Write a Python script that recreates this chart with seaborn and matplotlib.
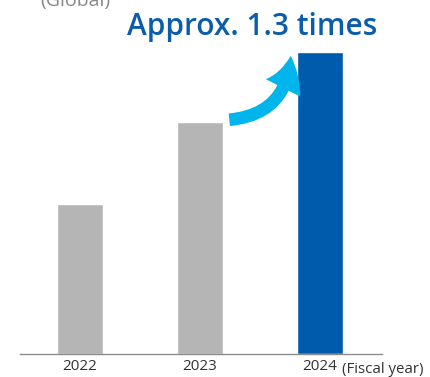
import matplotlib
matplotlib.use("Agg")
import matplotlib.pyplot as plt
import seaborn as sns
import pandas as pd
from matplotlib.patches import FancyArrowPatch

# -----------------------------
# DATA (relative sales)
# -----------------------------
years = ["2022", "2023", "2024"]
values = [150, 232, 302]
bar_colors = ["#b5b5b5", "#b5b5b5", "#005bac"]

df = pd.DataFrame({"Year": years, "Value": values})

sns.set_theme(style="white")
plt.rcParams["font.family"] = ["Open Sans", "DejaVu Sans"]

fig = plt.figure(figsize=(4.3, 3.77), dpi=100)
ax = fig.add_axes([20 / 430, 23 / 377, 362 / 430, 354 / 377])

sns.barplot(data=df, x="Year", y="Value", hue="Year", palette=bar_colors,
            legend=False, width=0.383, saturation=1, ax=ax)

ax.set_xlim(-0.5, 2.517)
ax.set_ylim(0, 354)
ax.set_xlabel("")
ax.set_ylabel("")
ax.set_yticks([])
ax.tick_params(axis="x", length=0, pad=3.5, labelsize=11, labelcolor="#333333")

for s in ["left", "right", "top"]:
    ax.spines[s].set_visible(False)
ax.spines["bottom"].set_color("#8c8c8c")
ax.spines["bottom"].set_linewidth(1)

# unit note next to last tick
ax.annotate("(Fiscal year)", xy=(2, 0), xycoords="data",
            xytext=(16, -11), textcoords="offset points",
            fontsize=10.8, color="#333333", va="center", ha="left",
            annotation_clip=False)

# curved growth arrow
half = 0.383 / 2
arrow = FancyArrowPatch((1 + half + 0.03, values[1] + 2),
                        (2 - half - 0.05, values[2] - 1),
                        connectionstyle="arc3,rad=0.45",
                        arrowstyle="simple,head_width=2.0,head_length=1.7,tail_width=0.65",
                        mutation_scale=14, color="#00b5eb", lw=0)
ax.add_patch(arrow)

fig.text(127 / 430, 1 - 27 / 377, "Approx. 1.3 times", fontsize=21.5,
         fontweight="semibold", color="#0a5cad", va="center", ha="left")
# the reference shows this label cut at the top edge
fig.text(40 / 430, 1 - 1 / 377, "(Global)", fontsize=14, color="#888888",
         va="center", ha="left")

fig.savefig("out.png", dpi=100)
